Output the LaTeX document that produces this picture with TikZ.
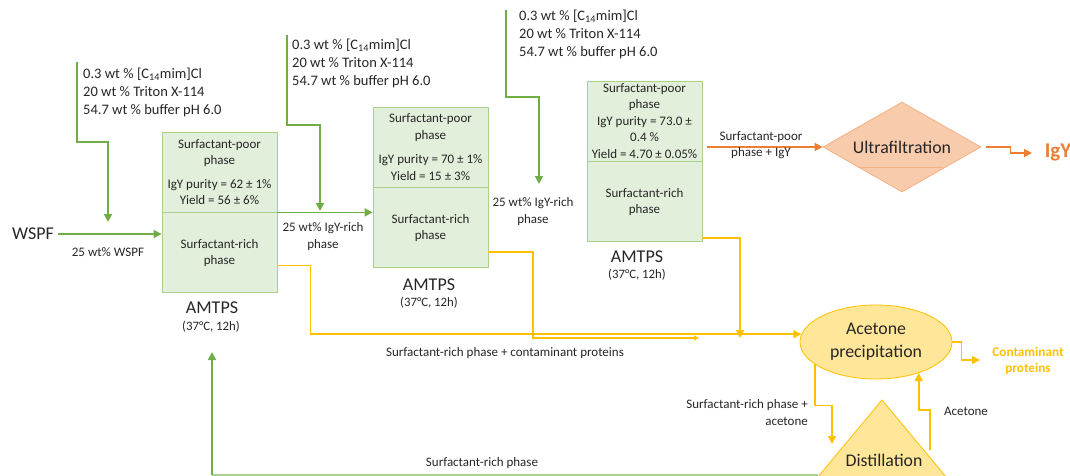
\documentclass[tikz,border=0pt]{standalone}
\usepackage{fontspec}
\setmainfont{Carlito}
\usetikzlibrary{arrows.meta,positioning,shapes.geometric}

\definecolor{feedgreen}{HTML}{70AD47}
\definecolor{boxgreen}{HTML}{E2EFDA}
\definecolor{boxedge}{HTML}{A9D18E}
\definecolor{richyellow}{HTML}{FFC000}
\definecolor{paleyellow}{HTML}{FFE699}
\definecolor{uforange}{HTML}{ED7D31}
\definecolor{uffill}{HTML}{F8CBAD}
\definecolor{ufedge}{HTML}{F4B183}
\definecolor{inktext}{HTML}{262626}

\tikzset{
  phasebox/.style={draw=boxedge,fill=boxgreen,line width=0.8pt,minimum width=115pt,
    minimum height=80pt,inner sep=0pt,align=center,text=inktext,
    font=\fontsize{13}{16.5}\selectfont},
  feedtext/.style={anchor=north west,align=left,inner sep=0pt,text=inktext,
    font=\fontsize{14.5}{18}\selectfont},
  flowlabel/.style={inner sep=0pt,align=center,text=inktext,
    font=\fontsize{13}{17}\selectfont},
  titletext/.style={inner sep=0pt,text=inktext,font=\fontsize{18}{20}\selectfont},
  condtext/.style={inner sep=0pt,text=inktext,font=\fontsize{12.8}{14}\selectfont},
  proctext/.style={inner sep=0pt,align=center,text=inktext,font=\fontsize{17.8}{23}\selectfont},
  feedarrow/.style={feedgreen,line width=1.8pt,-{Triangle[length=8pt,width=8pt]}},
  richarrow/.style={richyellow,line width=1.6pt,-{Triangle[length=8pt,width=8pt]}},
  ufarrow/.style={uforange,line width=1.6pt,-{Triangle[length=8pt,width=8pt]}}
}

\begin{document}
\begin{tikzpicture}[x=1pt,y=-1pt]
  \useasboundingbox (0,0) rectangle (1070,476);
  \clip (0,0) rectangle (1070,476);

  % AMTPS steps
  \node[phasebox] (poor1) at (219.5,172) {Surfactant-poor\\phase\\[7pt]IgY purity = 62 ± 1\%\\Yield = 56 ± 6\%};
  \node[phasebox,below=0pt of poor1] (rich1) {Surfactant-rich\\phase};
  \node[titletext] (amtps1) at (212,308) {AMTPS};
  \node[condtext] (cond1) at (211,327) {(37°C, 12h)};

  \node[phasebox] (poor2) at (430.5,147) {Surfactant-poor\\phase\\[8pt]IgY purity = 70 ± 1\%\\Yield = 15 ± 3\%};
  \node[phasebox,below=0pt of poor2] (rich2) {Surfactant-rich\\phase};
  \node[titletext] (amtps2) at (429,285) {AMTPS};
  \node[condtext] (cond2) at (429,303) {(37°C, 12h)};

  \node[phasebox] (poor3) at (644.5,121) {Surfactant-poor\\phase\\IgY purity = 73.0 ±\\0.4 \%\\Yield = 4.70 ± 0.05\%};
  \node[phasebox,below=0pt of poor3] (rich3) {Surfactant-rich\\phase};
  \node[titletext] (amtps3) at (637,257) {AMTPS};
  \node[condtext] (cond3) at (637,275) {(37°C, 12h)};

  % feeds
  \node[feedtext] (feed1) at (83,68) {0.3 wt \% [C\textsubscript{14}mim]Cl\\20 wt \% Triton X-114\\54.7 wt \% buffer pH 6.0};
  \node[feedtext] (feed2) at (292,39) {0.3 wt \% [C\textsubscript{14}mim]Cl\\20 wt \% Triton X-114\\54.7 wt \% buffer pH 6.0};
  \node[feedtext] (feed3) at (519,10) {0.3 wt \% [C\textsubscript{14}mim]Cl\\20 wt \% Triton X-114\\54.7 wt \% buffer pH 6.0};
  \coordinate (f1top) at (77,62);
  \coordinate (f1end) at (108,222);
  \coordinate (f2top) at (287,35);
  \coordinate (f2end) at (320,211);
  \coordinate (f3top) at (506,10);
  \coordinate (f3end) at (539,184);
  \draw[feedarrow] (f1top) |- ++(31,80) -- (f1end);
  \draw[feedarrow] (f2top) |- ++(33,90) -- (f2end);
  \draw[feedarrow] (f3top) |- ++(33,87) -- (f3end);

  \node[titletext,inner sep=4pt] (wspf) at (33,234) {WSPF};
  \draw[feedarrow] (wspf.east) -- (wspf.east -| rich1.west);
  \node[flowlabel] (wspflab) at (108,252) {25 wt\% WSPF};
  \draw[feedarrow] (rich1.north east) -- (rich1.north east -| rich2.west);
  \node[flowlabel] (rich1lab) at (323,237) {25 wt\% IgY-rich\\phase};
  \node[flowlabel] (rich2lab) at (533,212) {25 wt\% IgY-rich\\phase};

  % ultrafiltration
  \node[diamond,aspect=2,draw=ufedge,fill=uffill,line width=0.8pt,minimum width=158pt,
    minimum height=90pt,inner sep=0pt,proctext] (uf) at (902,147) {Ultrafiltration};
  \draw[ufedge,line width=0.8pt] (858,167) -- (943,167);
  \draw[ufarrow] (poor3.east |- uf.west) ++(5,0) -- (uf.west);
  \node[flowlabel,font=\fontsize{13}{16}\selectfont] (uflab) at (761,145) {Surfactant-poor\\phase + IgY};
  \node[inner sep=0pt,text=uforange,font=\fontsize{21}{24}\selectfont\bfseries] (igy) at (1058,152) {IgY};
  \coordinate (igyin) at (1032,153);
  \draw[ufarrow] (uf.east) ++(5,0) -- ++(24,0) |- (igyin);

  % acetone precipitation
  \node[ellipse,draw=richyellow,fill=paleyellow,line width=0.8pt,minimum width=152pt,
    minimum height=74pt,inner sep=0pt,proctext] (acp) at (876,342) {Acetone\\precipitation};
  \coordinate (joint2) at (533,338);
  \coordinate (midtip) at (699,338);
  \coordinate (joint3) at (740,338);
  \draw[richarrow] ([yshift=-12.5pt]rich1.east) -- ++(33,0) |- (acp.174);
  \draw[richyellow,line width=1.6pt,-{Triangle[length=5pt,width=5pt]}] ([yshift=-24pt]rich2.east) -| (joint2) -- (midtip);
  \draw[richarrow] ([yshift=-36pt]rich3.east) -| (joint3);
  \node[flowlabel] (cplab) at (505,353) {Surfactant-rich phase + contaminant proteins};

  \node[inner sep=0pt,align=center,text=richyellow,font=\fontsize{13.2}{16}\selectfont\bfseries] (cp) at (1028,361) {Contaminant\\proteins};
  \coordinate (cpin) at (980,360);
  \draw[richarrow] (acp.east) -- ++(9,0) |- (cpin);

  % distillation
  \filldraw[fill=paleyellow,draw=richyellow,line width=0.8pt] (882,400) -- (807,490) -- (957,490) -- cycle;
  \node[proctext] (dist) at (884,460) {Distillation};
  \coordinate (dsin) at (832,444);
  \coordinate (dsout) at (930,450);
  \draw[richarrow] (acp.200) -- ++(0,41) -| (dsin);
  \draw[richarrow] (dsout) -- ++(0,-40) -| (acp.324);
  \node[flowlabel,anchor=east,align=right] (dsinlab) at (808,413) {Surfactant-rich phase +\\acetone};
  \node[flowlabel] (acelab) at (966,411) {Acetone};

  % recycle
  \coordinate (retstart) at (818,475);
  \coordinate (retcorner) at (212,475);
  \coordinate (retend) at (212,352);
  \draw[boxedge,line width=1.5pt] (retstart) -- (retcorner);
  \draw[feedarrow] (retcorner) -- (retend);
  \node[flowlabel] (retlab) at (482,463) {Surfactant-rich phase};
\end{tikzpicture}
\end{document}
